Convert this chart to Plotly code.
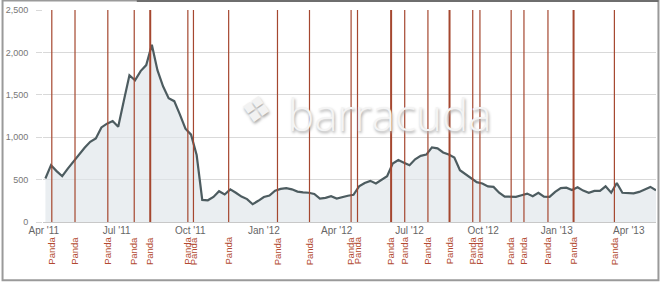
import pandas as pd
import plotly.graph_objects as go

# ---- data ----
start_date = "2011-04-03"
traffic = [513, 670, 600, 540, 630, 715, 790, 875, 945, 985,
           1115, 1160, 1190, 1123, 1430, 1730, 1670, 1780, 1850, 2090,
           1790, 1600, 1460, 1425, 1270, 1100, 1030, 790, 260, 256,
           295, 363, 325, 385, 345, 300, 270, 210, 250, 295,
           312, 370, 390, 400, 385, 358, 350, 345, 330, 275,
           285, 305, 277, 295, 310, 320, 420, 460, 485, 455,
           495, 540, 690, 730, 700, 670, 740, 780, 795, 880,
           868, 820, 795, 760, 610, 560, 520, 470, 455, 420,
           414, 345, 300, 296, 296, 315, 335, 305, 343, 298,
           296, 355, 400, 405, 378, 410, 370, 345, 367, 367,
           420, 345, 460, 345, 340, 338, 355, 385, 414, 375]
weeks = pd.date_range(start_date, periods=len(traffic), freq="7D")

panda_dates = ["2011-04-11", "2011-05-10", "2011-06-20", "2011-07-23", "2011-08-12",
               "2011-09-28", "2011-10-05", "2011-11-18", "2012-01-18", "2012-02-27",
               "2012-04-19", "2012-04-27", "2012-06-08", "2012-06-25", "2012-07-24",
               "2012-08-20", "2012-09-18", "2012-09-27", "2012-11-05", "2012-11-21",
               "2012-12-21", "2013-01-22", "2013-03-14"]
panda_label = "Panda"

tick_dates = ["2011-04-01", "2011-07-01", "2011-10-01", "2012-01-01", "2012-04-01",
              "2012-07-01", "2012-10-01", "2013-01-01", "2013-04-01"]
tick_labels = ["Apr '11", "Jul '11", "Oct '11", "Jan '12", "Apr '12",
               "Jul '12", "Oct '12", "Jan '13", "Apr '13"]
y_ticks = [0, 500, 1000, 1500, 2000, 2500]
y_tick_labels = ["0", "500", "1,000", "1,500", "2,000", "2,500"]
watermark = "barracuda"
watermark_logo = "❖"

# ---- figure ----
fig = go.Figure()
fig.add_trace(go.Scatter(
    x=weeks, y=traffic, mode="lines",
    line=dict(color="#4d5c60", width=2.2),
    fill="tozeroy", fillcolor="rgba(222,229,234,0.65)",
    hoverinfo="skip", showlegend=False))

thick = {"2011-08-12", "2012-06-08", "2012-08-20", "2013-01-22"}
shapes = []
annotations = []
for d in panda_dates:
    shapes.append(dict(type="line", xref="x", yref="paper", x0=d, x1=d, y0=0, y1=1,
                       line=dict(color="#a5472f", width=2.0 if d in thick else 1.2),
                       layer="above"))
    annotations.append(dict(x=d, y=-0.136, xref="x", yref="paper", text=panda_label,
                            textangle=-90, showarrow=False, xanchor="center",
                            yanchor="middle",
                            font=dict(family="Liberation Sans, Arial", size=9.5,
                                      color="#b24a30")))

annotations.append(dict(x=0.565, y=0.51, xref="paper", yref="paper", text=watermark,
                        showarrow=False,
                        font=dict(family="Open Sans", size=44, color="#f4f4f4",
                                  weight=300, shadow="1px 2px 3px #a8a8a8")))
annotations.append(dict(x=0.348, y=0.53, xref="paper", yref="paper", text=watermark_logo,
                        showarrow=False, textangle=10,
                        font=dict(family="DejaVu Sans", size=36, color="#f2f2f2",
                                  shadow="1px 2px 3px #a8a8a8")))

# frame around the chart image
shapes.append(dict(type="rect", xref="paper", yref="paper",
                   x0=-0.066, x1=1.004, y0=-0.275, y1=1.045,
                   line=dict(color="#9a9a9a", width=2), layer="below"))
shapes.append(dict(type="line", xref="paper", yref="paper",
                   x0=0.153, x1=1.004, y0=1.045, y1=1.045,
                   line=dict(color="#6e6e6e", width=3)))

fig.update_layout(
    width=661, height=287,
    margin=dict(l=43, r=5, t=10, b=65),
    paper_bgcolor="white", plot_bgcolor="white",
    shapes=shapes, annotations=annotations,
    xaxis=dict(range=["2011-03-31", weeks[-1]], tickmode="array",
               tickvals=tick_dates, ticktext=tick_labels, showgrid=False,
               showline=True, linecolor="#c8c8c8", ticks="",
               ticklabelstandoff=-1,
               tickfont=dict(family="Liberation Sans, Arial", size=10, color="#666666")),
    yaxis=dict(range=[0, 2500], tickmode="array", tickvals=y_ticks,
               ticktext=y_tick_labels, showgrid=True, gridcolor="#d9d9d9",
               zeroline=False, ticks="outside", ticklen=6, tickcolor="#d9d9d9",
               ticklabelstandoff=6,
               tickfont=dict(family="Liberation Sans, Arial", size=9, color="#777777")),
)

fig.write_html("out.html")
